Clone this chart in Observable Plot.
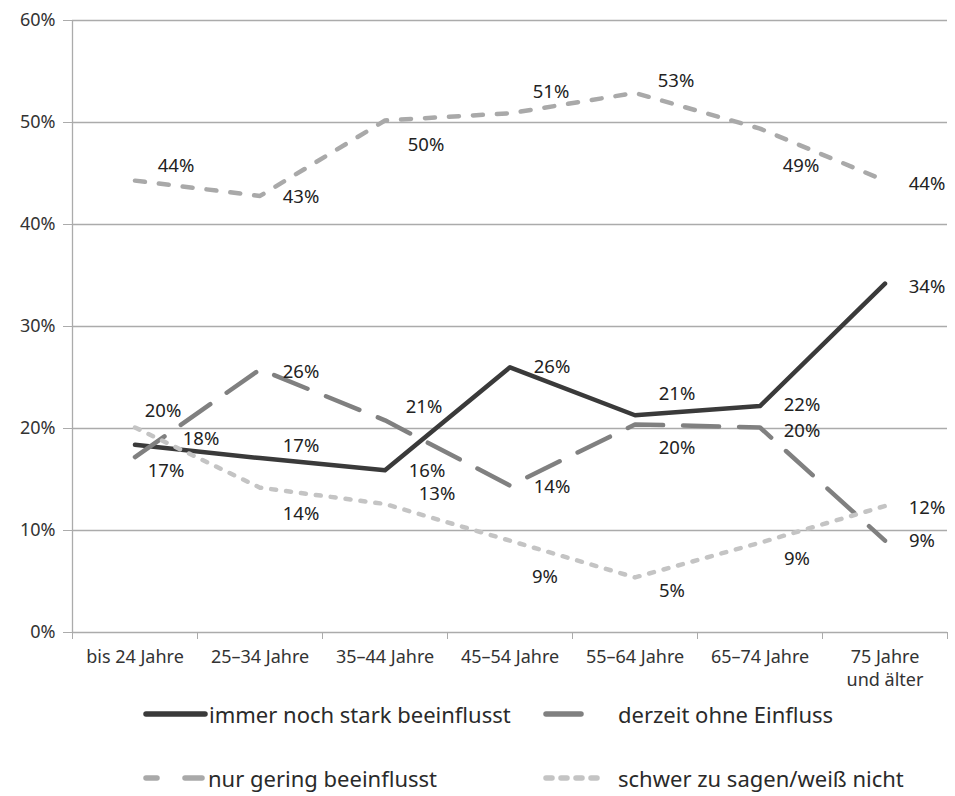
<!DOCTYPE html>
<html><head><meta charset="utf-8">
<script src="https://cdn.jsdelivr.net/npm/d3@7"></script>
<script src="https://cdn.jsdelivr.net/npm/@observablehq/plot@0.6"></script>
<style>
body{margin:0;background:#fff;font-family:"Noto Sans",sans-serif;}
#chart{position:relative;width:955px;height:796px;overflow:hidden;}
.item{position:absolute;display:flex;align-items:center;height:30px;line-height:30px;font-size:22px;color:#2a2a2a;white-space:nowrap;}
.item svg{display:block;}
</style></head><body><div id="chart"></div>
<script>
// ---- data ----
const categories = ["bis 24 Jahre","25–34 Jahre","35–44 Jahre","45–54 Jahre","55–64 Jahre","65–74 Jahre","75 Jahre\nund älter"];
const seriesNames = ["immer noch stark beeinflusst","derzeit ohne Einfluss","nur gering beeinflusst","schwer zu sagen/weiß nicht"];
const stark  = [18.4, 17.1, 15.9, 26.0, 21.3, 22.2, 34.2];
const ohne   = [17.2, 25.8, 20.8, 14.4, 20.4, 20.1, 9.0];
const gering = [44.3, 42.8, 50.2, 50.9, 52.9, 49.4, 44.3];
const schwer = [20.1, 14.2, 12.6, 9.0, 5.4, 8.8, 12.4];
const yTicks = [0, 10, 20, 30, 40, 50, 60];

// ---- styling / label placement (pixel offsets) ----
const styles = [
  {stroke:"#3a3a3a", dash:null, cap:"round"},
  {stroke:"#808080", dash:"36,20", cap:"round"},
  {stroke:"#a9a9a9", dash:"10,14", cap:"round"},
  {stroke:"#c4c4c4", dash:"5,10", cap:"round"}
];
const labelOffsets = [
  [[66,-6],[41,-12],[42,1],[42,0],[42,-21],[42,-1],[42,3]],
  [[31,14],[41,3],[39,-13],[42,1],[42,24],[42,4],[37,0]],
  [[41,-15],[41,1],[41,25],[41,-21],[41,-12],[41,37],[42,3]],
  [[28,-16],[41,26],[52,-10],[35,36],[37,14],[37,16],[42,2]]
];
const allSeries = [stark, ohne, gering, schwer];

const X = (d, i) => i + 0.5;
const gridColor = "#ababab";

const marks = [
  Plot.gridY(yTicks.filter(t => t > 0), {stroke: gridColor, strokeOpacity: 1, strokeWidth: 1.3}),
  Plot.axisY({ticks: yTicks, tickFormat: d => d + "%", tickSize: 9, tickPadding: 8, stroke: gridColor, fill: "#333", fontSize: 18, label: null}),
  Plot.ruleX([0], {stroke: gridColor, strokeWidth: 1.3}),
  Plot.ruleY([0], {stroke: gridColor, strokeWidth: 1.3}),
  Plot.axisX({ticks: d3.range(8), tickFormat: () => "", tickSize: 7, stroke: gridColor, label: null}),
  Plot.text(categories, {x: X, text: d => d, frameAnchor: "bottom", lineAnchor: "top", dy: 15, fontSize: 18, lineHeight: 1.25, fill: "#333"})
];

allSeries.forEach((vals, s) => {
  const st = styles[s];
  marks.push(Plot.line(vals, {x: X, y: d => d, stroke: st.stroke, strokeWidth: 4.5,
    strokeDasharray: st.dash, strokeLinecap: st.cap, strokeLinejoin: "round"}));
});
allSeries.forEach((vals, s) => {
  vals.forEach((v, i) => {
    const [dx, dy] = labelOffsets[s][i];
    marks.push(Plot.text([v], {x: () => i + 0.5, y: d => d, text: d => Math.round(d) + "%",
      dx, dy, fontSize: 18.5, fill: "#222"}));
  });
});

const plot = Plot.plot({
  width: 955, height: 695,
  marginLeft: 72, marginRight: 8, marginTop: 20, marginBottom: 63,
  x: {type: "linear", domain: [0, 7], axis: null},
  y: {domain: [0, 60], axis: null},
  style: {fontFamily: "'Noto Sans', sans-serif", background: "#fff", color: "#333"},
  marks
});
const chart = document.getElementById("chart");
chart.appendChild(plot);

// ---- legend (HTML below the SVG) ----
const legendSamples = [
  `<svg width="66" height="20"><line x1="3" y1="10" x2="62" y2="10" stroke="${styles[0].stroke}" stroke-width="5.5" stroke-linecap="round"/></svg>`,
  `<svg width="75" height="20"><line x1="3" y1="10" x2="38" y2="10" stroke="${styles[1].stroke}" stroke-width="5.5" stroke-linecap="round"/></svg>`,
  `<svg width="65" height="20"><line x1="3" y1="10" x2="14" y2="10" stroke="${styles[2].stroke}" stroke-width="5.5" stroke-linecap="round"/><line x1="42" y1="10" x2="59" y2="10" stroke="${styles[2].stroke}" stroke-width="5.5" stroke-linecap="round"/></svg>`,
  `<svg width="75" height="20"><line x1="3" y1="10" x2="55" y2="10" stroke="${styles[3].stroke}" stroke-width="5.5" stroke-dasharray="6,9" stroke-linecap="round"/></svg>`
];
const legendPos = [[143, 699], [543, 699], [143, 763], [543, 763]];
seriesNames.forEach((name, k) => {
  const div = document.createElement("div");
  div.className = "item";
  div.style.left = legendPos[k][0] + "px";
  div.style.top = legendPos[k][1] + "px";
  div.innerHTML = legendSamples[k] + `<span>${name}</span>`;
  chart.appendChild(div);
});
</script></body></html>
